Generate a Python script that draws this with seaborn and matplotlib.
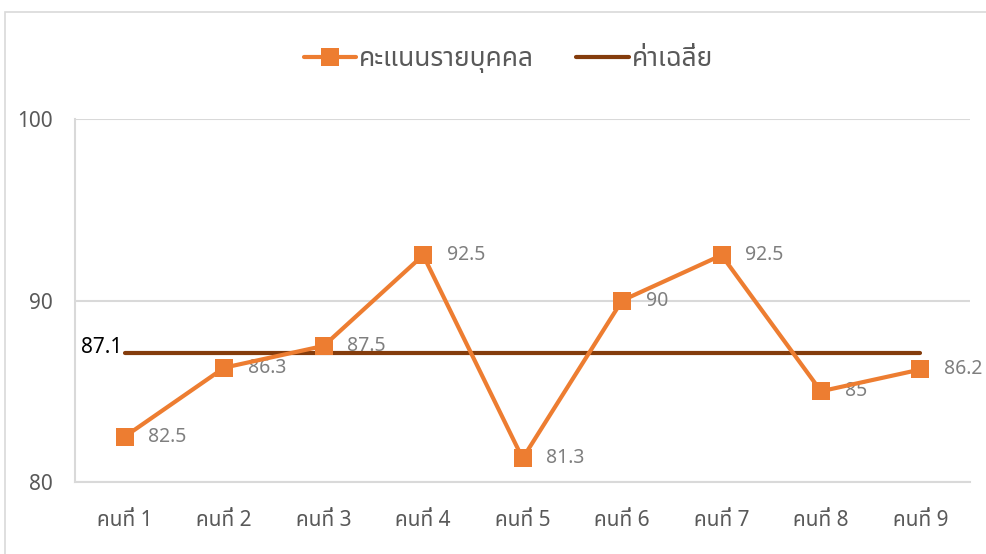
import numpy as np
import pandas as pd
import seaborn as sns
import matplotlib.pyplot as plt
from matplotlib.patches import Rectangle
from matplotlib.lines import Line2D

people = ['คนที่ 1', 'คนที่ 2', 'คนที่ 3', 'คนที่ 4', 'คนที่ 5',
          'คนที่ 6', 'คนที่ 7', 'คนที่ 8', 'คนที่ 9']
scores = [82.5, 86.3, 87.5, 92.5, 81.3, 90, 92.5, 85, 86.2]
score_labels = ['82.5', '86.3', '87.5', '92.5', '81.3', '90', '92.5', '85', '86.2']
average_label = '87.1'
y_ticks = [80, 90, 100]

sns.set_theme(style='white')
plt.rcParams['font.family'] = ['Noto Sans Thai', 'DejaVu Sans']

df = pd.DataFrame({'person': people, 'score': scores})
df['pos'] = np.arange(len(df))
avg = np.mean(scores)

fig = plt.figure(figsize=(9.87, 5.54), dpi=100)
ax = fig.add_axes([0.076, 0.130, 0.907, 0.655])

# outer chart frame
fig.patches.append(Rectangle((5 / 987, -0.1), 1.1, (554 - 12) / 554 + 0.1,
                             transform=fig.transFigure, fill=False,
                             edgecolor='#d9d9d9', linewidth=1.2))

orange = '#ED7D31'
brown = '#843C0C'

ax.plot([df['pos'].iloc[0], df['pos'].iloc[-1]], [avg, avg],
        color=brown, linewidth=3, zorder=3, solid_capstyle='round')
sns.lineplot(data=df, x='pos', y='score', ax=ax, color=orange,
             linewidth=3, marker='s', markersize=13, markeredgewidth=0,
             zorder=4)

for x, y, lab in zip(df['pos'], df['score'], score_labels):
    ax.annotate(lab, (x, y), xytext=(17, 0), textcoords='offset points',
                ha='left', va='center', color='#7f7f7f', fontsize=14)
ax.annotate(average_label, (0, avg), xytext=(-2, 4), textcoords='offset points',
            ha='right', va='center', color='black', fontsize=15)

ax.set_xlim(-0.5, len(people) - 0.5)
ax.set_ylim(80, 100)
ax.set_yticks(y_ticks)
ax.set_xticks(df['pos'])
ax.set_xticklabels(people, fontsize=15, color='#595959', fontweight='light')
ax.tick_params(axis='y', labelsize=15, labelcolor='#595959', pad=16, length=0)
ax.tick_params(axis='x', pad=20, length=0)
ax.set_xlabel('')
ax.set_ylabel('')
ax.yaxis.grid(True, color='#d9d9d9', linewidth=1.5)
for side in ['top', 'right']:
    ax.spines[side].set_visible(False)
for side in ['left', 'bottom']:
    ax.spines[side].set_color('#d9d9d9')
    ax.spines[side].set_linewidth(1.5)

handles = [Line2D([], [], color=orange, linewidth=3, marker='s', markersize=13,
                  markeredgewidth=0),
           Line2D([], [], color=brown, linewidth=3)]
fig.legend(handles, ['คะแนนรายบุคคล', 'ค่าเฉลี่ย'], loc='center',
           bbox_to_anchor=(0.515, 0.893), ncol=2, frameon=False,
           fontsize=19, labelcolor='#595959', handlelength=2.0,
           handletextpad=0.1, columnspacing=1.6)

fig.savefig('out.png', dpi=100)
